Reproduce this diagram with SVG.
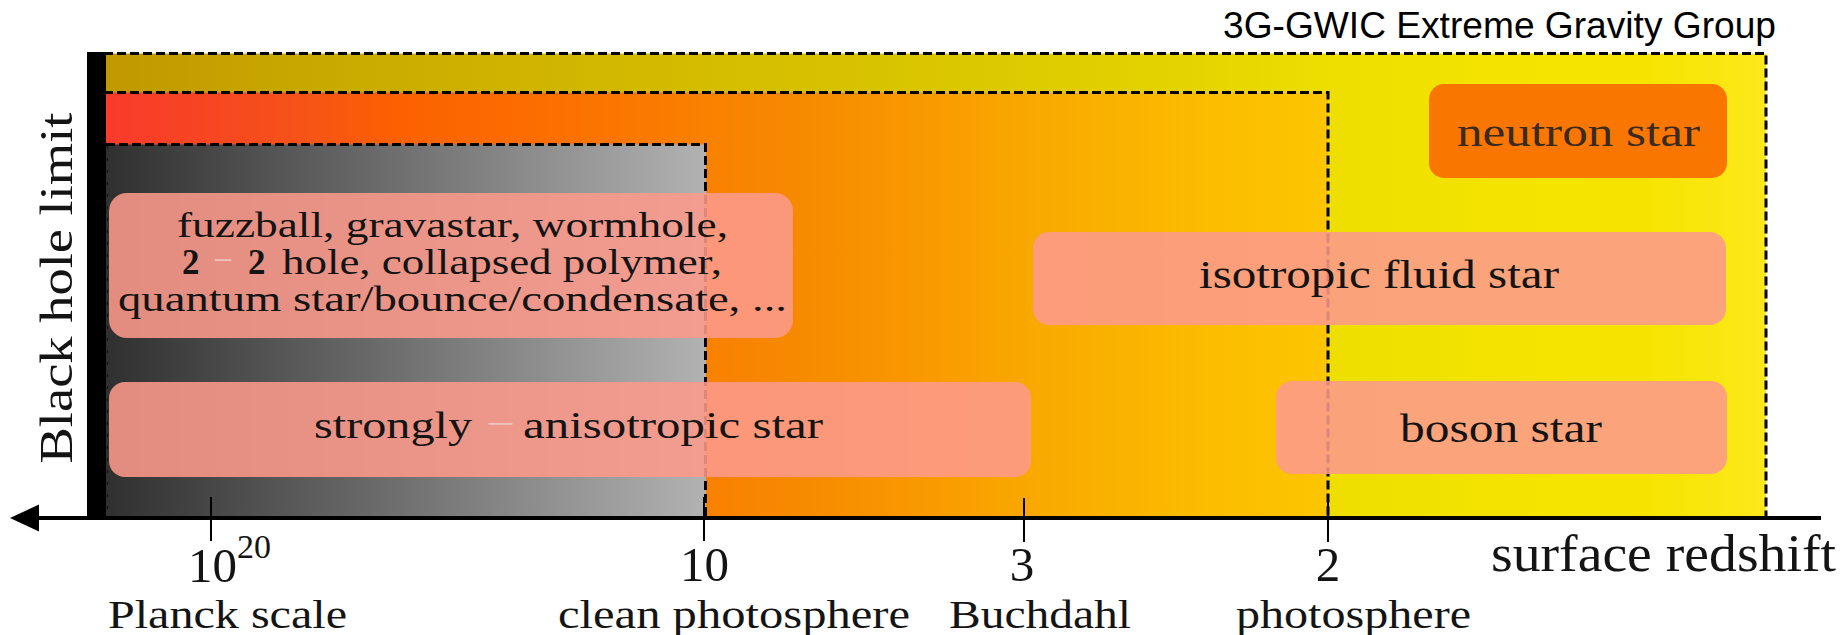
<svg xmlns="http://www.w3.org/2000/svg" width="1848" height="635" viewBox="0 0 1848 635">
  <style>
    .serif { font-family: "Liberation Serif", "Times New Roman", serif; fill: #141414; }
    .sans { font-family: "Liberation Sans", Arial, sans-serif; fill: #000; }
    .box { fill: #fc9a8b; fill-opacity: 0.88; }
    .edge { fill: none; stroke: #000; stroke-width: 3; stroke-dasharray: 9 4; }
    .tick { stroke: #000; stroke-width: 2; }
    .faint { fill: #ecc3be; }
  </style>
  <defs>
    <linearGradient id="gYellow" gradientUnits="userSpaceOnUse" x1="104" y1="0" x2="1766" y2="0">
      <stop offset="0" stop-color="#c19800"/>
      <stop offset="0.12" stop-color="#c8a800"/>
      <stop offset="0.30" stop-color="#d2b800"/>
      <stop offset="0.48" stop-color="#d9c400"/>
      <stop offset="0.66" stop-color="#e6d400"/>
      <stop offset="0.74" stop-color="#eedf00"/>
      <stop offset="0.84" stop-color="#f4e300"/>
      <stop offset="0.93" stop-color="#f6e400"/>
      <stop offset="1" stop-color="#fce81c"/>
    </linearGradient>
    <linearGradient id="gOrange" gradientUnits="userSpaceOnUse" x1="104" y1="0" x2="1328" y2="0">
      <stop offset="0" stop-color="#f93a2c"/>
      <stop offset="0.08" stop-color="#f74522"/>
      <stop offset="0.16" stop-color="#f65219"/>
      <stop offset="0.24" stop-color="#fb6100"/>
      <stop offset="0.36" stop-color="#fc6e00"/>
      <stop offset="0.49" stop-color="#f98000"/>
      <stop offset="0.57" stop-color="#f68a00"/>
      <stop offset="0.65" stop-color="#f99600"/>
      <stop offset="0.73" stop-color="#f9a400"/>
      <stop offset="0.81" stop-color="#f9b000"/>
      <stop offset="0.90" stop-color="#fcbc00"/>
      <stop offset="1" stop-color="#fcc600"/>
    </linearGradient>
    <linearGradient id="gGray" gradientUnits="userSpaceOnUse" x1="107" y1="0" x2="706" y2="0">
      <stop offset="0" stop-color="#303030"/>
      <stop offset="1" stop-color="#b2b2b2"/>
    </linearGradient>
    <marker id="arrowHead" markerUnits="userSpaceOnUse" viewBox="-32 -16 34 32" markerWidth="34" markerHeight="32" refX="-15" refY="0" orient="auto">
      <path d="M-29,-13.5 L0,0 L-29,13.5 Z" fill="#000"/>
    </marker>
  </defs>

  <!-- title -->
  <text class="sans" font-family="Liberation Sans, Arial, sans-serif" x="1223" y="38" font-size="36" textLength="553" lengthAdjust="spacingAndGlyphs">3G-GWIC Extreme Gravity Group</text>

  <!-- redshift regions -->
  <g id="region-yellow">
    <rect x="104" y="53.5" width="1662" height="465" fill="url(#gYellow)"/>
  </g>
  <g id="region-orange">
    <rect x="104" y="92.5" width="1224" height="426" fill="url(#gOrange)"/>
  </g>
  <g id="region-gray">
    <rect x="106" y="144.5" width="600" height="374" fill="url(#gGray)"/>
  </g>
  <g id="region-edges">
    <path class="edge" d="M104,53.5 H1766 V518"/>
    <path class="edge" d="M104,92.5 H1328 V518"/>
    <path class="edge" d="M106,144.5 H705.5 V518"/>
    <path d="M107.5,146 V518" fill="none" stroke="#000" stroke-width="1.2" stroke-dasharray="3 9" opacity="0.6"/>
  </g>

  <!-- object classes -->
  <g id="box-fuzzball" font-family="Liberation Serif, Times New Roman, serif">
    <rect class="box" x="109" y="193" width="684" height="145" rx="18"/>
    <text class="serif" x="177" y="237" font-size="35" textLength="551" lengthAdjust="spacingAndGlyphs">fuzzball, gravastar, wormhole,</text>
    <text class="serif" x="182" y="274" font-size="35" font-weight="bold">2</text>
    <text class="serif faint" x="213" y="272" font-size="35" textLength="20" lengthAdjust="spacingAndGlyphs">−</text>
    <text class="serif" x="248" y="274" font-size="35" font-weight="bold">2</text>
    <text class="serif" x="282" y="274" font-size="35" textLength="440" lengthAdjust="spacingAndGlyphs">hole, collapsed polymer,</text>
    <text class="serif" x="118" y="311" font-size="35" textLength="669" lengthAdjust="spacingAndGlyphs">quantum star/bounce/condensate, ...</text>
  </g>
  <g id="box-anisotropic" font-family="Liberation Serif, Times New Roman, serif">
    <rect class="box" x="109" y="382" width="922" height="95" rx="16"/>
    <text class="serif" x="314" y="438" font-size="37" textLength="158" lengthAdjust="spacingAndGlyphs">strongly</text>
    <text class="serif faint" x="486" y="436" font-size="37" textLength="29" lengthAdjust="spacingAndGlyphs">−</text>
    <text class="serif" x="523" y="438" font-size="37" textLength="300" lengthAdjust="spacingAndGlyphs">anisotropic star</text>
  </g>
  <g id="box-isotropic" font-family="Liberation Serif, Times New Roman, serif">
    <rect class="box" x="1033" y="232" width="693" height="93" rx="16"/>
    <text class="serif" x="1199" y="288" font-size="39" textLength="360" lengthAdjust="spacingAndGlyphs">isotropic fluid star</text>
  </g>
  <g id="box-boson" font-family="Liberation Serif, Times New Roman, serif">
    <rect class="box" x="1276" y="381" width="451" height="93" rx="16"/>
    <text class="serif" x="1400" y="442" font-size="40" textLength="202" lengthAdjust="spacingAndGlyphs">boson star</text>
  </g>
  <g id="box-neutron" font-family="Liberation Serif, Times New Roman, serif">
    <rect x="1429" y="84" width="298" height="94" rx="15" fill="#f97700"/>
    <text class="serif" x="1457" y="146" font-size="39" textLength="243" lengthAdjust="spacingAndGlyphs" style="fill:#3a2a22">neutron star</text>
  </g>

  <!-- black hole limit -->
  <g id="bh-limit">
    <rect x="87" y="52" width="19" height="466" fill="#000"/>
    <text class="serif" transform="translate(72,288) rotate(-90)" text-anchor="middle" font-size="46" textLength="351" lengthAdjust="spacingAndGlyphs">Black hole limit</text>
  </g>

  <!-- redshift axis -->
  <g id="connectors">
    <line x1="1821" y1="518" x2="25" y2="518" stroke="#000" stroke-width="4" marker-end="url(#arrowHead)"/>
    <line class="tick" x1="211" y1="497" x2="211" y2="541"/>
    <line class="tick" x1="704" y1="497" x2="704" y2="541"/>
    <line class="tick" x1="1024" y1="498" x2="1024" y2="542"/>
    <line class="tick" x1="1328" y1="498" x2="1328" y2="542"/>
  </g>

  <g id="axis-labels">
    <text class="serif" x="188" y="582" font-size="49">10<tspan font-size="34" dy="-24">20</tspan></text>
    <text class="serif" x="680" y="581" font-size="49">10</text>
    <text class="serif" x="1022" y="581" font-size="49" text-anchor="middle">3</text>
    <text class="serif" x="1328" y="581" font-size="49" text-anchor="middle">2</text>
    <text class="serif" x="1491" y="571" font-size="52" textLength="345" lengthAdjust="spacingAndGlyphs">surface redshift</text>
    <text class="serif" x="108" y="628" font-size="40" textLength="239" lengthAdjust="spacingAndGlyphs">Planck scale</text>
    <text class="serif" x="558" y="628" font-size="40" textLength="352" lengthAdjust="spacingAndGlyphs">clean photosphere</text>
    <text class="serif" x="949" y="628" font-size="40" textLength="182" lengthAdjust="spacingAndGlyphs">Buchdahl</text>
    <text class="serif" x="1236" y="628" font-size="40" textLength="235" lengthAdjust="spacingAndGlyphs">photosphere</text>
  </g>
</svg>
